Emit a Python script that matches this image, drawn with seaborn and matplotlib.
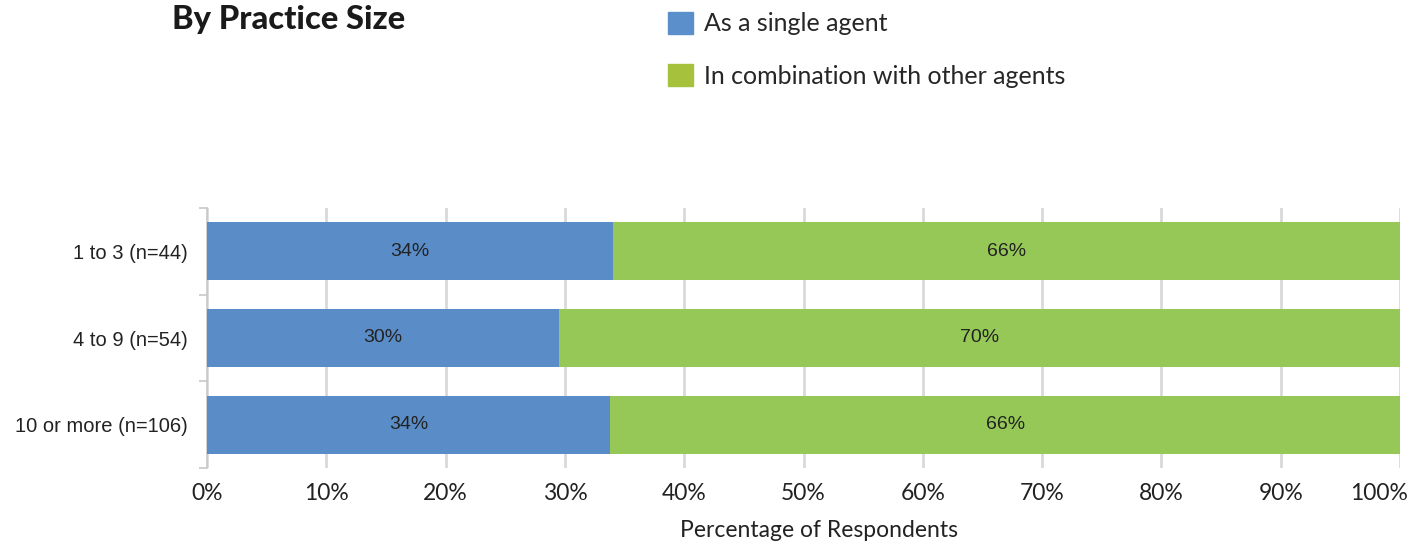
import matplotlib
matplotlib.use("Agg")
import matplotlib.pyplot as plt
import matplotlib.patches as mpatches
from matplotlib.font_manager import FontProperties
import seaborn as sns
import pandas as pd

categories = ["1 to 3 (n=44)", "4 to 9 (n=54)", "10 or more (n=106)"]
single_agent = [34.0, 29.5, 33.8]
combination = [66.0, 70.5, 66.2]
single_labels = ["34%", "30%", "34%"]
combo_labels = ["66%", "70%", "66%"]
series_names = ["As a single agent", "In combination with other agents"]
x_ticks = [0, 10, 20, 30, 40, 50, 60, 70, 80, 90, 100]
x_tick_labels = [f"{t}%" for t in x_ticks]

BLUE = "#5A8DC8"
GREEN = "#96C857"
LEG_BLUE = "#5A8FCB"
LEG_GREEN = "#A6C23C"
GRID = "#D9D9D9"
FUTURA = ["Lato", "DejaVu Sans"]
ARIAL = ["Liberation Sans", "DejaVu Sans"]

sns.set_theme(style="white")
plt.rcParams["font.family"] = FUTURA

df = pd.DataFrame({"cat": categories, "single": single_agent,
                   "total": [a + b for a, b in zip(single_agent, combination)]})

fig = plt.figure(figsize=(14.19, 5.5), dpi=100)
ax = fig.add_axes([207 / 1419, 82 / 550, (1400 - 207) / 1419, 260 / 550])

sns.barplot(data=df, x="total", y="cat", color=GREEN, width=0.67, ax=ax,
            saturation=1, edgecolor="none", zorder=3)
sns.barplot(data=df, x="single", y="cat", color=BLUE, width=0.67, ax=ax,
            saturation=1, edgecolor="none", zorder=3)

for i, (s, c) in enumerate(zip(single_agent, combination)):
    ax.text(s / 2, i, single_labels[i], ha="center", va="center",
            fontsize=14, color="#222222", family=ARIAL, zorder=5)
    ax.text(s + c / 2, i, combo_labels[i], ha="center", va="center",
            fontsize=14, color="#222222", family=ARIAL, zorder=5)

ax.set_xlim(0, 100)
ax.set_ylim(2.5, -0.5)
ax.set_xticks(x_ticks)
# last tick label is drawn separately, nudged left so it stays inside the figure
ax.set_xticklabels(x_tick_labels[:-1] + [""], fontsize=16.5, color="#222222",
                   family=FUTURA)
ax.annotate(x_tick_labels[-1], xy=(x_ticks[-1], 0), xycoords=ax.get_xaxis_transform(),
            xytext=(-15, -11), textcoords="offset points", ha="center", va="top",
            fontsize=16.5, color="#222222", family=FUTURA)
ax.set_xlabel("Percentage of Respondents", fontsize=16.5, color="#222222",
              family=FUTURA)
ax.xaxis.set_label_coords(0.5126, -0.2)
ax.set_ylabel("")
ax.tick_params(axis="y", length=0, labelsize=14.5, pad=14, labelcolor="#222222")
for lab in ax.get_yticklabels():
    lab.set_family(ARIAL)
ax.set_yticks([-0.5, 0.5, 1.5, 2.5], minor=True)
ax.tick_params(axis="y", which="minor", length=6, color="#C8C8C8", width=1.2, left=True)
ax.tick_params(axis="x", length=0, pad=11)

ax.grid(axis="x", color=GRID, linewidth=2, zorder=0)
ax.set_axisbelow(True)
for side in ["top", "right", "bottom"]:
    ax.spines[side].set_visible(False)
ax.spines["left"].set_color("#C8C8C8")
ax.spines["left"].set_linewidth(1.2)

fig.text(172 / 1419, 1 - 20 / 550, "By Practice Size", fontsize=23.5,
         fontweight="black", color="#1A1A1A", va="center", ha="left", family=FUTURA)

handles = [mpatches.Patch(color=LEG_BLUE, label=series_names[0]),
           mpatches.Patch(color=LEG_GREEN, label=series_names[1])]
fig.legend(handles=handles, loc="upper left", bbox_to_anchor=(645 / 1419, 1 + 11 / 550),
           frameon=False, handlelength=1.0, handleheight=1.0,
           labelspacing=1.15, handletextpad=0.45,
           prop=FontProperties(family=FUTURA, size=18))

fig.savefig("out.png", dpi=100)
